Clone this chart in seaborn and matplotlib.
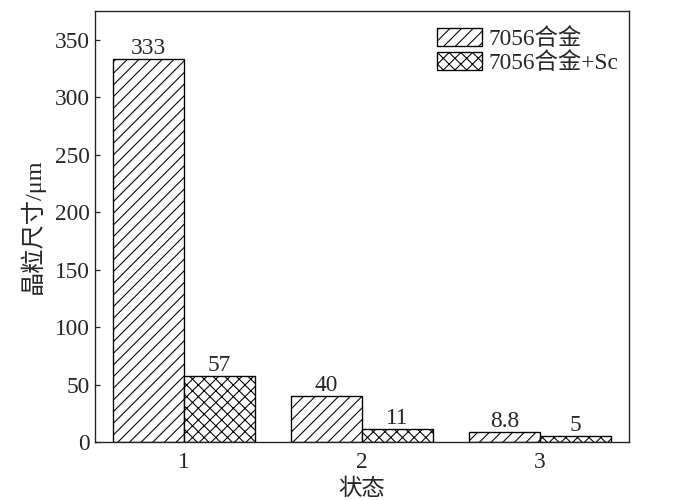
import pandas as pd
import seaborn as sns
import matplotlib.pyplot as plt
import matplotlib.patches as mpatches

# values
states = ['1', '2', '3']
series_names = ['7056合金', '7056合金+Sc']
alloy = [333, 40, 8.8]
alloy_sc = [57, 11, 5]
hatches = ['//', 'xx']
y_ticks = [0, 50, 100, 150, 200, 250, 300, 350]

sns.set_style('ticks')
plt.rcParams['font.family'] = ['Liberation Serif', 'Noto Sans CJK SC']
plt.rcParams['hatch.linewidth'] = 1.1
plt.rcParams['axes.unicode_minus'] = False

df = pd.DataFrame({
    'state': states * 2,
    'size': alloy + alloy_sc,
    'series': [series_names[0]] * len(states) + [series_names[1]] * len(states),
})

DPI = 70
FS = 24
fig = plt.figure(figsize=(700 / DPI, 500 / DPI), dpi=DPI)
ax = fig.add_axes([95 / 700, 58 / 500, (629 - 95) / 700, (442 - 11) / 500])

sns.barplot(
    data=df, x='state', y='size', hue='series',
    order=states, hue_order=series_names,
    width=0.8, ax=ax, legend=False,
)

for cont, hatch in zip(ax.containers, hatches):
    for bar in cont:
        bar.set_facecolor('white')
        bar.set_edgecolor('black')
        bar.set_linewidth(1.4)
        bar.set_hatch(hatch)
    ax.bar_label(cont, fmt='%g', padding=0, fontsize=FS)

ax.set_xlim(-0.5, 2.5)
ax.set_ylim(0, 375)
ax.set_yticks(y_ticks)
ax.tick_params(axis='y', direction='in', length=5, width=1.3, labelsize=FS, pad=5)
ax.tick_params(axis='x', length=0, labelsize=FS, pad=10)
for sp in ax.spines.values():
    sp.set_linewidth(1.4)
    sp.set_color('#222222')

ax.set_xlabel('状态', fontsize=FS, labelpad=6)
ax.set_ylabel('晶粒尺寸/μm', fontsize=25, labelpad=11)

handles = [
    mpatches.Patch(facecolor='white', edgecolor='black', linewidth=1.4, hatch=h, label=n)
    for h, n in zip(hatches, series_names)
]
ax.legend(
    handles=handles, loc='upper left', bbox_to_anchor=(0.64, 0.96),
    frameon=False, fontsize=FS, handlelength=1.93, handleheight=0.78,
    handletextpad=0.3, labelspacing=0.1, borderpad=0, borderaxespad=0,
)

fig.savefig('out.png', dpi=DPI)
